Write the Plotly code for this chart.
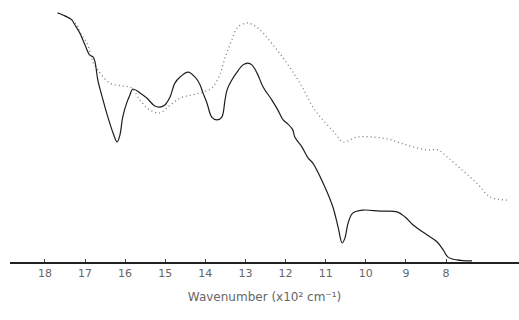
import plotly.graph_objects as go

# Wavenumber (cm^-1) and relative absorbance
solid_wn = [1768, 1755, 1733, 1725, 1713, 1700, 1688, 1680, 1675, 1668, 1655, 1643, 1630,
            1620, 1613, 1606, 1596, 1588, 1581, 1563, 1546, 1526, 1513, 1501, 1488, 1476,
            1463, 1443, 1426, 1413, 1406, 1396, 1384, 1371, 1359, 1351, 1346, 1334, 1321,
            1306, 1294, 1284, 1271, 1256, 1234, 1219, 1206, 1197, 1182, 1177, 1159, 1144,
            1132, 1102, 1082, 1069, 1059, 1052, 1044, 1032, 1007, 965, 922, 902, 882, 847,
            822, 807, 795, 773, 735]
solid_abs = [0.969, 0.961, 0.942, 0.922, 0.891, 0.844, 0.805, 0.798, 0.778, 0.708, 0.630,
             0.564, 0.502, 0.467, 0.494, 0.564, 0.619, 0.650, 0.673, 0.658, 0.638, 0.607,
             0.603, 0.611, 0.642, 0.696, 0.720, 0.739, 0.720, 0.689, 0.658, 0.619, 0.564,
             0.553, 0.564, 0.630, 0.669, 0.708, 0.739, 0.767, 0.774, 0.767, 0.735, 0.681,
             0.630, 0.591, 0.553, 0.541, 0.514, 0.486, 0.447, 0.405, 0.385, 0.292, 0.214,
             0.136, 0.074, 0.093, 0.152, 0.191, 0.202, 0.198, 0.195, 0.175, 0.144, 0.105,
             0.078, 0.047, 0.019, 0.008, 0.004]

dotted_wn = [1768, 1755, 1733, 1720, 1713, 1695, 1680, 1668, 1638, 1606, 1583, 1563, 1538,
             1513, 1493, 1463, 1433, 1406, 1384, 1364, 1351, 1334, 1319, 1296, 1276, 1256,
             1231, 1206, 1177, 1157, 1132, 1107, 1077, 1057, 1022, 982, 947, 920, 897, 847,
             820, 797, 760, 723, 690, 648]
dotted_abs = [0.969, 0.961, 0.942, 0.922, 0.895, 0.852, 0.778, 0.747, 0.696, 0.685, 0.677,
              0.630, 0.591, 0.580, 0.603, 0.638, 0.650, 0.661, 0.677, 0.728, 0.794, 0.864,
              0.914, 0.930, 0.918, 0.891, 0.844, 0.794, 0.728, 0.677, 0.603, 0.553, 0.502,
              0.467, 0.486, 0.486, 0.479, 0.467, 0.455, 0.436, 0.436, 0.409, 0.358, 0.307,
              0.253, 0.241]

tick_vals = [1800, 1700, 1600, 1500, 1400, 1300, 1200, 1100, 1000, 900, 800]
tick_text = ["18", "17", "16", "15", "14", "13", "12", "11", "10", "9", "8"]

fig = go.Figure()
fig.add_trace(go.Scatter(x=dotted_wn, y=dotted_abs, mode="lines",
                         line=dict(color="#7a7a7a", width=1.3, dash="1px,3px"),
                         line_shape="spline", showlegend=False))
fig.add_trace(go.Scatter(x=solid_wn, y=solid_abs, mode="lines",
                         line=dict(color="#1e1e1e", width=1.2),
                         line_shape="spline", showlegend=False))

fig.update_layout(
    width=519, height=320,
    margin=dict(l=10, r=0, t=5, b=58),
    paper_bgcolor="white", plot_bgcolor="white",
    font=dict(family="DejaVu Sans", color="#666666"),
    xaxis=dict(range=[1887, 618], tickvals=tick_vals, ticktext=tick_text,
               showgrid=False, zeroline=False, showline=True,
               linecolor="#222222", linewidth=1.5,
               ticks="inside", ticklen=3, tickcolor="#444444",
               tickfont=dict(size=11, color="#666666"),
               title=dict(text="Wavenumber (x10² cm⁻¹)", standoff=14,
                          font=dict(size=12, color="#666666"))),
    yaxis=dict(range=[0, 1], visible=False, showgrid=False, zeroline=False),
)

fig.write_html("out.html")
